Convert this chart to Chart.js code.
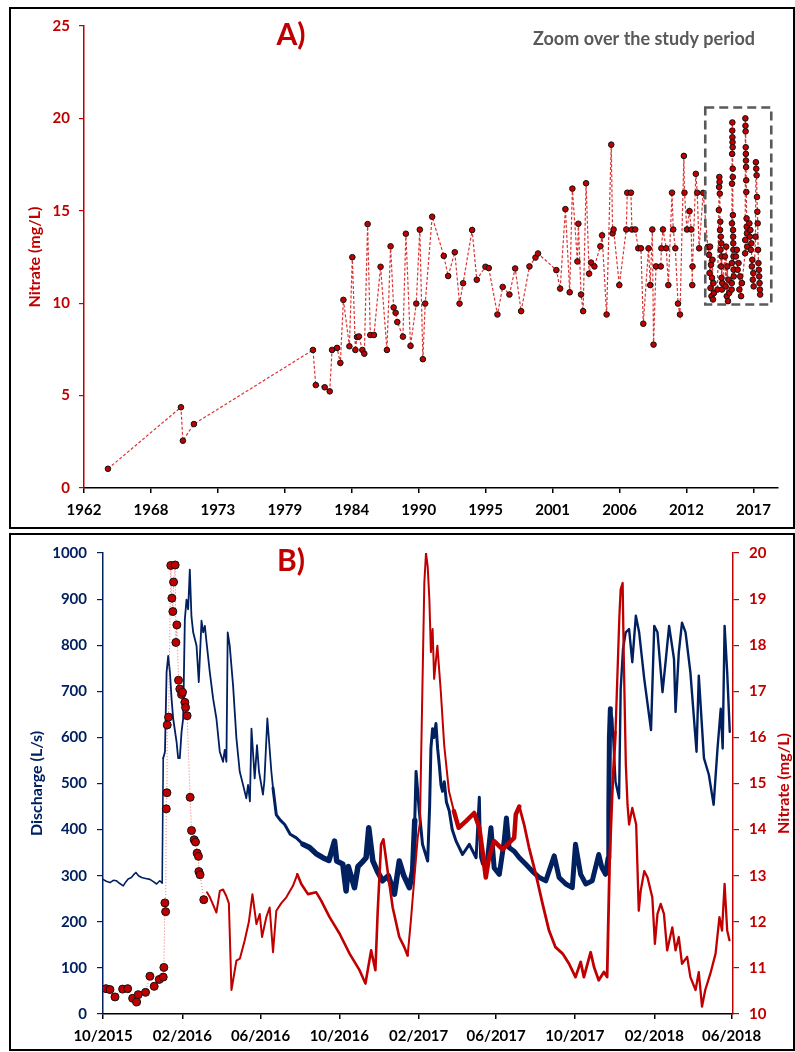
<!DOCTYPE html>
<html>
<head>
<meta charset="utf-8">
<script src="https://cdn.jsdelivr.net/npm/chart.js@4.4.0/dist/chart.umd.min.js"></script>
<style>
  html, body { margin: 0; padding: 0; background: #fff; }
  body { width: 795px; height: 1052px; position: relative; overflow: hidden; }
  .frame { position: absolute; border: 2px solid #000; box-sizing: border-box; }
  #frameA { left: 9px; top: 7px; width: 786px; height: 522px; }
  #frameB { left: 9px; top: 533px; width: 786px; height: 518px; }
  canvas { position: absolute; left: 10px; }
  #chartA { top: 8px; }
  #chartB { top: 534px; }
</style>
</head>
<body>
<div class="frame" id="frameA"></div>
<div class="frame" id="frameB"></div>
<canvas id="chartA" width="783" height="519"></canvas>
<canvas id="chartB" width="783" height="516"></canvas>
<script>
// ---------- Panel A : long term nitrate record ----------
const yearA = [
  1964.93, 1970.90, 1971.06, 1971.96, 1981.70, 1981.93, 1982.66, 1983.07, 1983.26, 1983.67,
  1983.94, 1984.19, 1984.68, 1984.92, 1985.17, 1985.30, 1985.46, 1985.74, 1985.90, 1986.17,
  1986.39, 1986.69, 1987.23, 1987.75, 1988.05, 1988.30, 1988.46, 1988.60, 1989.06, 1989.30,
  1989.68, 1990.15, 1990.44, 1990.69, 1990.88, 1991.45, 1992.40, 1992.76, 1993.30, 1993.69,
  1993.98, 1994.72, 1995.10, 1995.81, 1996.08, 1996.79, 1997.22, 1997.77, 1998.24, 1998.73,
  1999.41, 1999.90, 2000.11, 2001.61, 2001.92, 2002.35, 2002.70, 2002.92, 2003.33, 2003.41,
  2003.63, 2003.80, 2004.04, 2004.29, 2004.45, 2004.72, 2005.21, 2005.35, 2005.72, 2006.10,
  2006.21, 2006.29, 2006.76, 2007.33, 2007.41, 2007.71, 2007.79, 2008.06, 2008.31, 2008.53,
  2008.72, 2009.15, 2009.29, 2009.46, 2009.56, 2009.76, 2010.15, 2010.20, 2010.33, 2010.60,
  2010.77, 2011.07, 2011.17, 2011.34, 2011.56, 2011.72, 2012.04, 2012.09, 2012.29, 2012.50,
  2012.64, 2012.73, 2012.75, 2013.02, 2013.13, 2013.29, 2013.62, 2014.00,
  // study period
  2014.10, 2014.14, 2014.18, 2014.22, 2014.26, 2014.30, 2014.34, 2014.38, 2014.42, 2014.46, 2014.50, 2014.79,
  2014.90, 2014.92, 2014.94, 2014.96, 2014.98, 2015.00, 2015.02, 2015.04, 2015.06, 2015.08, 2015.10, 2015.12, 2015.14, 2015.16, 2015.18,
  2015.40, 2015.45, 2015.50, 2015.55, 2015.60, 2015.65, 2015.70, 2015.75,
  2015.95, 2015.96, 2015.97, 2015.975, 2015.98, 2015.99, 2016.00, 2016.005, 2016.01, 2016.02, 2016.03,
  2016.035, 2016.04, 2016.05, 2016.06, 2016.07, 2016.08, 2016.09, 2016.10, 2016.11, 2016.12,
  2016.30, 2016.37, 2016.44, 2016.51, 2016.58, 2016.65, 2016.72, 2016.79,
  2017.05, 2017.06, 2017.07, 2017.08, 2017.09, 2017.10, 2017.11, 2017.12, 2017.13, 2017.14, 2017.15, 2017.17, 2017.18, 2017.20, 2017.22,
  2017.40, 2017.44, 2017.48, 2017.52, 2017.56, 2017.60, 2017.64, 2017.68, 2017.72, 2017.75,
  2017.90, 2017.93, 2017.96, 2017.99, 2018.02, 2018.05, 2018.08, 2018.11, 2018.14, 2018.17, 2018.20, 2018.23, 2018.26, 2018.28
];
const nitrateA = [
  1.04, 4.37, 2.56, 3.46, 7.47, 5.57, 5.45, 5.23, 7.47, 7.58,
  6.77, 10.18, 7.67, 12.49, 7.47, 8.17, 8.20, 7.47, 7.27, 14.28,
  8.28, 8.28, 11.97, 7.47, 13.08, 9.77, 9.48, 8.98, 8.19, 13.76,
  7.69, 9.98, 13.98, 6.97, 9.98, 14.68, 12.56, 11.47, 12.76, 9.98,
  11.08, 13.96, 11.27, 11.97, 11.90, 9.39, 10.88, 10.47, 11.88, 9.57,
  11.99, 12.47, 12.69, 11.79, 10.79, 15.09, 10.59, 16.20, 12.26, 14.30,
  10.47, 9.57, 16.49, 11.60, 12.20, 11.99, 13.08, 13.67, 9.39, 18.58,
  13.78, 13.99, 10.98, 13.99, 15.98, 15.98, 13.99, 13.99, 12.97, 12.97,
  8.89, 12.97, 10.98, 13.99, 7.76, 11.99, 11.99, 12.97, 13.99, 12.97,
  10.98, 15.98, 13.99, 12.97, 9.98, 9.39, 17.97, 15.98, 13.99, 14.98,
  13.99, 10.98, 11.99, 17.00, 15.98, 12.97, 15.97, 13.05,
  12.62, 11.63, 13.06, 10.82, 12.08, 10.38, 11.37, 12.35, 10.20, 11.09, 10.55, 10.74,
  15.04, 16.29, 16.83, 16.56, 15.93, 13.96, 14.41, 12.89, 13.60, 11.99, 13.24, 11.37, 12.53, 10.74, 11.09,
  12.53, 10.91, 13.06, 10.38, 11.99, 10.11, 11.27, 10.55,
  10.74, 11.09, 12.17, 14.32, 16.47, 18.08, 19.34, 19.78, 18.98, 18.71, 18.44,
  17.28, 16.83, 14.77, 13.96, 13.60, 13.24, 12.89, 12.53, 11.81, 11.45,
  12.53, 12.89, 11.81, 12.17, 10.74, 11.45, 10.38, 11.09,
  12.70, 13.42, 20.00, 19.60, 19.30, 18.44, 18.08, 17.72, 17.37, 16.65, 16.02, 14.59, 14.14, 13.78, 13.06,
  14.32, 13.60, 13.96, 12.89, 13.24, 11.99, 12.35, 11.27, 11.63, 10.91,
  13.60, 17.63, 17.28, 16.92, 15.75, 14.95, 14.32, 12.89, 12.17, 11.81, 11.45, 11.09, 10.74, 10.47
];
// x axis of A runs in steps of 2000 days from 21/12/1962
const tickPosA = [1962.97, 1968.45, 1973.92, 1979.40, 1984.87, 1990.35, 1995.82, 2001.30, 2006.78, 2012.25, 2017.73];
const tickLabelA = ["1962", "1968", "1973", "1979", "1984", "1990", "1995", "2001", "2006", "2012", "2017"];
const zoomBox = { x0: 2013.79, x1: 2019.19, y0: 9.93, y1: 20.59 };

// ---------- Panel B : study period (days from 01/10/2015) ----------
const sampleDay = [4.6, 10.8, 18.6, 30.4, 38.2, 45.9, 52.1, 54.6, 65.9, 72.7, 79.3, 87.1, 93.3, 94.3, 95.9, 97, 98, 99,
  99.5, 101.6, 105, 106.7, 108.2, 109.3, 111.8, 112.9, 114.4, 117, 119, 121.7, 123.2, 126.8, 127.9, 130.3,
  135, 137.1, 141.2, 143.3, 145.8, 147.9, 148.5, 150.4, 156.1];
const sampleNitrate = [10.55, 10.53, 10.37, 10.54, 10.55, 10.34, 10.26, 10.42, 10.47, 10.82, 10.60, 10.75, 10.80, 11.01, 12.41, 12.22, 14.45, 14.80,
  16.27, 16.44, 19.73, 19.02, 18.73, 19.37, 19.74, 18.06, 18.44, 17.24, 17.05, 16.93, 16.98, 16.76, 16.65, 16.47,
  14.70, 13.98, 13.78, 13.73, 13.49, 13.42, 13.09, 13.02, 12.48];

const sensorDay = [161, 165, 170, 175.7, 181, 186, 191, 195, 199, 206.7, 212, 219.6, 226, 231.5, 237.7, 242.8, 246.4, 253, 258.2, 263.4,
  268.5, 276, 284, 294.3, 301, 307.2, 317.5, 330.4, 338, 351, 366.6, 382, 397.4, 406.6, 415.4, 422, 425.6, 430.8, 434.4, 441,
  448.8, 459, 466.8, 472, 477, 482, 487.5, 491, 497.8, 500.4, 503, 505.6, 508, 510.6, 513, 518, 523.4,
  528.6, 536, 543.6, 551, 562, 575, 583, 588, 593, 598, 606, 619, 629, 637, 639.5, 645, 652.4, 660, 670.6, 681,
  691, 701, 712, 722, 732, 740, 745, 755.5, 760.7, 768, 776, 781, 785, 789, 794, 800, 802, 805, 807, 810,
  812.6, 815, 820, 826, 830, 833, 838.5, 843.6, 851, 855, 859, 864, 869, 874, 882, 887, 892, 897, 905, 910,
  918, 923, 928, 933, 941, 949, 955, 959, 963, 967, 970.5];
const sensorNitrate = [12.64, 12.55, 12.39, 12.20, 12.67, 12.70, 12.56, 12.40, 10.52, 11.16, 11.20, 11.60, 12.00, 12.60, 11.95, 12.17, 11.67, 12.10, 12.31, 11.34,
  12.24, 12.40, 12.53, 12.78, 13.03, 12.82, 12.60, 12.64, 12.46, 12.10, 11.74, 11.31, 10.95, 10.66, 11.38, 10.95, 12.24, 13.68, 13.79, 13.10,
  12.31, 11.67, 11.45, 11.27, 12.03, 12.89, 13.82, 14.14, 19.35, 20.00, 19.71, 19.00, 17.85, 18.35, 17.27, 17.99, 16.98,
  15.83, 14.83, 14.40, 14.04, 14.18, 14.36, 14.04, 13.53, 12.96, 13.39, 13.75, 13.57, 13.71, 13.82, 14.33, 14.50, 14.11, 13.61, 13.03, 12.39,
  11.81, 11.45, 11.31, 11.09, 10.80, 11.13, 10.80, 11.34, 11.02, 10.73, 10.91, 10.80, 13.39, 14.83, 16.12, 18.64, 19.21, 19.35, 17.56, 15.40,
  14.54, 14.11, 14.47, 14.11, 12.24, 12.67, 13.10, 12.96, 12.53, 11.52, 12.17, 12.39, 12.17, 11.38, 11.88, 11.38, 11.67, 11.09, 11.24, 10.80,
  10.52, 10.91, 10.16, 10.52, 10.88, 11.31, 12.10, 11.81, 12.82, 11.81, 11.60];

const flowDay = [0, 5, 10.8, 16, 21, 26, 31.4, 35, 39, 44, 48, 51, 55, 59.8, 66, 72.7, 78, 83, 88, 91.7,
  93.3, 96, 98.5, 101, 103.7, 106.2, 108.7, 114, 116.4, 119, 121.7, 124.2, 126.8, 129.4, 131.9, 134.5, 137, 139.7, 144.9, 148.4,
  152.6, 155.2, 157.8, 160.4, 165.5, 170.6, 175.7, 180.9, 186, 188.6, 191.2, 193.2, 196.3, 201.5, 206.7, 211.8, 217, 222, 224.7, 227.6,
  230, 235, 238.6, 241.7, 247.8, 250, 254.6, 260.8, 263.4, 268.5, 275, 281.5, 290, 299.5, 310, 320, 330, 340.6, 350, 358.7,
  362, 371.5, 376.6, 380, 389.6, 395, 402, 407.6, 411.7, 418, 425, 433, 442, 451.5, 459, 466, 474.6, 479.7, 483, 485,
  490, 495, 503, 506, 508, 510.6, 513, 515.8, 518.4, 521, 523.6, 526, 528.7, 532, 536.5, 541, 547, 557, 567.5, 578,
  583, 585, 588, 596, 601, 606, 614, 621.5, 625, 629, 637, 645, 655, 665, 676, 686, 699, 706.6, 717, 727,
  732, 740, 748, 758, 768, 773, 778.5, 782.6, 783.6, 784.5, 786, 789, 791.5, 794, 799.5, 802, 805.6, 809.8, 815, 820,
  825.5, 830.6, 838.5, 849, 854, 859, 866.8, 872, 877, 884.6, 887, 892, 897, 902.5, 910, 919.5, 923, 931, 938.6, 946,
  952, 957, 960, 963, 967, 971];
const flowValue = [292, 288, 285, 290, 289, 283, 278, 286, 293, 296, 303, 307, 300, 296, 294, 292, 287, 282, 289, 284,
  555, 569, 741, 777, 741, 684, 641, 590, 555, 555, 612, 641, 856, 899, 878, 964, 863, 828, 799, 720,
  853, 828, 842, 806, 741, 684, 641, 569, 547, 573, 547, 828, 799, 713, 598, 526, 497, 468, 497, 461,
  619, 511, 583, 526, 476, 505, 641, 526, 490, 432, 420, 411, 390, 382, 368, 361, 348, 339, 333, 375,
  332, 325, 267, 320, 274, 320, 330, 339, 404, 332, 310, 289, 300, 260, 332, 300, 274, 310, 420, 526,
  440, 368, 332, 450, 576, 619, 600, 630, 576, 540, 497, 483, 504, 460, 440, 400, 375, 346, 368, 339,
  470, 340, 325, 339, 404, 317, 303, 375, 425, 361, 353, 339, 325, 310, 296, 289, 343, 296, 282, 274,
  368, 303, 282, 289, 346, 317, 303, 339, 440, 598, 662, 641, 569, 504, 468, 705, 792, 828, 835, 763,
  864, 828, 727, 616, 842, 828, 698, 770, 842, 770, 655, 784, 849, 828, 741, 569, 734, 555, 519, 454,
  576, 662, 576, 842, 741, 612];

const tickPosB = [0, 123, 244, 366, 489, 609, 731, 854, 974];
const tickLabelB = ["10/2015", "02/2016", "06/2016", "10/2016", "02/2017", "06/2017", "10/2017", "02/2018", "06/2018"];

// ---------- styles ----------
const RED = '#C00000';
const NAVY = '#002060';
const GREY = '#595959';
const FONT = 'Lato, "Open Sans", sans-serif';
const tickFont = { family: FONT, size: 15, weight: 'bold' };
const titleFont = { family: FONT, size: 16, weight: 'bold' };

// line thickness per period, to mimic the dense noisy records
const flowBands = [[0, 92, 1.6], [92, 262, 1.8], [262, 300, 3], [300, 480, 5.5], [480, 590, 3], [590, 785, 5], [785, 980, 2.4]];
const sensorBands = [[150, 300, 2], [300, 470, 2.6], [470, 540, 2], [540, 645, 4.5], [645, 790, 2.8], [790, 980, 2.3]];
function bandWidth(bands) {
  return function(ctx) {
    const x = ctx.p0.parsed.x;
    for (const b of bands) {
      if (x >= b[0] && x < b[1]) return b[2];
    }
    return 1.5;
  };
}

function pairs(xs, ys) {
  return xs.map((x, i) => ({ x: x, y: ys[i] }));
}

const decorA = {
  id: 'decorA',
  afterDraw(chart) {
    const ctx = chart.ctx;
    const x = chart.scales.x, y = chart.scales.y;
    ctx.save();
    const l = x.getPixelForValue(zoomBox.x0), r = x.getPixelForValue(zoomBox.x1);
    const t = y.getPixelForValue(zoomBox.y1), b = y.getPixelForValue(zoomBox.y0);
    ctx.strokeStyle = GREY;
    ctx.lineWidth = 2.6;
    ctx.setLineDash([9, 5]);
    ctx.strokeRect(l, t, r - l, b - t);
    ctx.setLineDash([]);
    ctx.textAlign = 'center';
    ctx.textBaseline = 'middle';
    ctx.fillStyle = RED;
    ctx.font = 'bold 30px ' + FONT;
    ctx.fillText('A)', 281, 27);
    ctx.fillStyle = GREY;
    ctx.font = 'bold 18px ' + FONT;
    ctx.fillText('Zoom over the study period', 634, 31);
    ctx.restore();
  }
};

const decorB = {
  id: 'decorB',
  afterDraw(chart) {
    const ctx = chart.ctx;
    const area = chart.chartArea;
    ctx.save();
    ctx.textAlign = 'center';
    ctx.textBaseline = 'middle';
    ctx.fillStyle = RED;
    ctx.font = 'bold 30px ' + FONT;
    ctx.fillText('B)', 281, 27);
    ctx.font = 'bold 16px ' + FONT;
    ctx.translate(774, (area.top + area.bottom) / 2);
    ctx.rotate(-Math.PI / 2);
    ctx.fillText('Nitrate (mg/L)', 0, 0);
    ctx.restore();
  }
};

Chart.defaults.font.family = FONT;

new Chart(document.getElementById('chartA'), {
  type: 'line',
  data: {
    datasets: [{
      data: pairs(yearA, nitrateA),
      borderColor: 'rgba(215, 30, 30, 0.9)',
      borderWidth: 1.2,
      borderDash: [3, 2],
      pointRadius: 2.8,
      pointBackgroundColor: RED,
      pointBorderColor: '#111',
      pointBorderWidth: 1,
      tension: 0
    }]
  },
  options: {
    responsive: false,
    animation: false,
    layout: { padding: { top: 15, right: 15, left: 0, bottom: 0 } },
    plugins: { legend: { display: false }, tooltip: { enabled: false } },
    scales: {
      x: {
        type: 'linear',
        min: 1962.97,
        max: 2019.74,
        afterBuildTicks: s => { s.ticks = tickPosA.map(v => ({ value: v })); },
        afterFit: s => { s.height = 39; },
        ticks: {
          callback: (v, i) => tickLabelA[i],
          color: '#000', font: tickFont, padding: 8, maxRotation: 0, autoSkip: false
        },
        grid: { display: true, drawOnChartArea: false, drawTicks: true, tickLength: 5, color: '#000', lineWidth: 1.5 },
        border: { display: true, color: '#000', width: 1.5 }
      },
      y: {
        min: 0,
        max: 25,
        afterFit: s => { s.width = 74; },
        ticks: { stepSize: 5, color: RED, font: tickFont, padding: 9, callback: v => String(v) },
        grid: { display: true, drawOnChartArea: false, drawTicks: true, tickLength: 5, color: RED, lineWidth: 1.2 },
        border: { display: true, color: RED, width: 1.5 },
        title: { display: true, text: 'Nitrate (mg/L)', color: RED, font: titleFont, padding: { top: 15, bottom: 0 } }
      }
    }
  },
  plugins: [decorA]
});

new Chart(document.getElementById('chartB'), {
  type: 'line',
  data: {
    datasets: [
      {
        data: pairs(sampleDay, sampleNitrate),
        yAxisID: 'yN',
        borderColor: 'rgba(225, 70, 70, 0.75)',
        borderWidth: 1,
        borderDash: [1, 2],
        pointRadius: 4,
        pointBackgroundColor: RED,
        pointBorderColor: '#111',
        pointBorderWidth: 1,
        tension: 0
      },
      {
        data: pairs(sensorDay, sensorNitrate),
        yAxisID: 'yN',
        borderColor: RED,
        borderWidth: 2,
        segment: { borderWidth: bandWidth(sensorBands) },
        borderJoinStyle: 'round',
        borderCapStyle: 'round',
        pointRadius: 0,
        tension: 0
      },
      {
        data: pairs(flowDay, flowValue),
        yAxisID: 'yQ',
        borderColor: NAVY,
        borderWidth: 2,
        segment: { borderWidth: bandWidth(flowBands) },
        borderJoinStyle: 'round',
        borderCapStyle: 'round',
        pointRadius: 0,
        tension: 0
      }
    ]
  },
  options: {
    responsive: false,
    animation: false,
    layout: { padding: { top: 16, right: 0, left: 0, bottom: 0 } },
    plugins: { legend: { display: false }, tooltip: { enabled: false } },
    scales: {
      x: {
        type: 'linear',
        min: 0,
        max: 976,
        afterBuildTicks: s => { s.ticks = tickPosB.map(v => ({ value: v })); },
        afterFit: s => { s.height = 36; },
        ticks: {
          callback: (v, i) => tickLabelB[i],
          color: '#000', font: tickFont, padding: 8, maxRotation: 0, autoSkip: false
        },
        grid: { display: true, drawOnChartArea: false, drawTicks: true, tickLength: 5, color: '#000', lineWidth: 1.5 },
        border: { display: true, color: '#000', width: 1.5 }
      },
      yQ: {
        position: 'left',
        min: 0,
        max: 1000,
        afterFit: s => { s.width = 93; },
        ticks: { stepSize: 100, color: NAVY, font: tickFont, padding: 10, callback: v => String(v) },
        grid: { display: true, drawOnChartArea: false, drawTicks: true, tickLength: 6, color: NAVY, lineWidth: 1.2 },
        border: { display: true, color: NAVY, width: 1.5 },
        title: { display: true, text: 'Discharge (L/s)', color: NAVY, font: titleFont, padding: { top: 17, bottom: 0 } }
      },
      yN: {
        position: 'right',
        min: 10,
        max: 20,
        afterFit: s => { s.width = 60; },
        ticks: { stepSize: 1, color: RED, font: tickFont, padding: 10, callback: v => String(v) },
        grid: { display: true, drawOnChartArea: false, drawTicks: true, tickLength: 6, color: RED, lineWidth: 1.2 },
        border: { display: true, color: RED, width: 1.5 }
      }
    }
  },
  plugins: [decorB]
});
</script>
</body>
</html>
